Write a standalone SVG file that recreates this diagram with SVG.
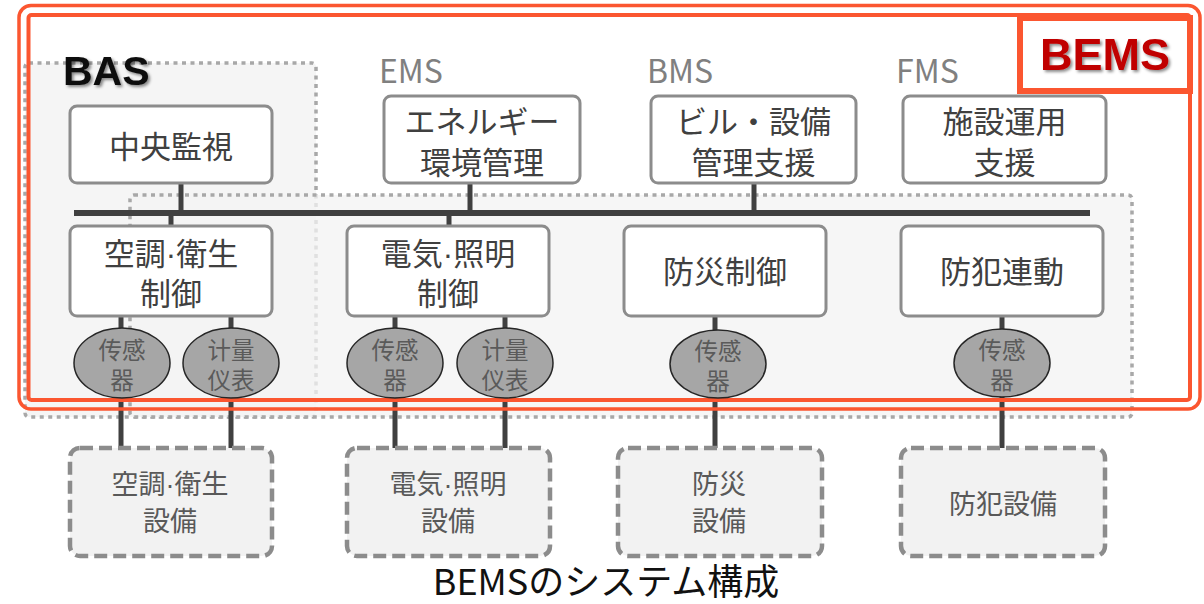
<svg xmlns="http://www.w3.org/2000/svg" width="1204" height="604" viewBox="0 0 1204 604">
<defs>
<filter id="sh" x="-10%" y="-20%" width="130%" height="150%">
<feDropShadow dx="2" dy="2" stdDeviation="1.5" flood-color="#000" flood-opacity="0.45"/>
</filter>
<style>
.region{stroke:#a8a8a8;stroke-width:3.5;stroke-dasharray:4 4.5}
.box{fill:#fff;stroke:#8c8c8c;stroke-width:3}
.dbox{fill:#f2f2f2;stroke:#8c8c8c;stroke-width:4.5;stroke-dasharray:13 6}
.ell{fill:#a6a6a6;stroke:#262626;stroke-width:1.5}
.red{fill:none;stroke:#fb5630}
.con{stroke:#404040;stroke-width:5;fill:none}
.bus{stroke:#404040;stroke-width:6;fill:none}
.jt{font-family:"Noto Sans CJK JP","Noto Sans CJK SC",sans-serif;text-anchor:middle}
.bt{font-size:31px;fill:#404040}
.et{font-size:23.5px;fill:#5a5a5a}
.dt{font-size:27px;fill:#595959}
.dot{font-family:"Liberation Sans",Arial,sans-serif}
.lab{font-family:"Noto Sans CJK JP",sans-serif;font-size:32px;fill:#808080}
</style>
</defs>
<rect width="1204" height="604" fill="#fff"/>

<g id="regions">
<rect id="bas-region" class="region" x="25" y="63" width="291" height="354" rx="4" fill="#f5f5f5"/>
<rect id="ctrl-region" class="region" x="130" y="195" width="1002" height="222" rx="4" fill="#f3f3f3" fill-opacity="0.75"/>
</g>

<g id="connectors">
<path class="bus" d="M74 213H1090"/>
<path class="con" d="M181 183V213M171 213V226M470 183V213M449 213V226M754 183V213"/>
<path class="con" d="M121 316V330M231 316V330M395 316V330M505 316V330M715 316V330M1002 316V330"/>
<path class="con" d="M121 396V448M231 396V448M395 396V448M505 396V448M715 396V448M1002 396V448"/>
</g>

<g id="bems-frame">
<rect class="red" x="19" y="5.5" width="1181" height="403.5" rx="12" stroke-width="3.5"/>
<rect class="red" x="28.5" y="15" width="1161.5" height="385" rx="3" stroke-width="4"/>
<rect x="1020" y="18" width="170" height="73" fill="#fff" stroke="#fb5630" stroke-width="6"/>
<text x="1105" y="70" font-family="Liberation Sans,Arial,sans-serif" font-weight="bold" font-size="45" fill="#c00000" text-anchor="middle" filter="url(#sh)">BEMS</text>
</g>

<g id="labels">
<text x="63" y="85" font-family="Liberation Sans,Arial,sans-serif" font-weight="bold" font-size="41" fill="#111" filter="url(#sh)">BAS</text>
<text class="lab" x="379" y="83">EMS</text>
<text class="lab" x="647" y="83">BMS</text>
<text class="lab" x="896" y="83">FMS</text>
</g>

<g id="n-central"><rect class="box" x="70" y="106" width="202" height="77" rx="7"/><text class="jt bt" x="171" y="158">中央監視</text></g>
<g id="n-ems"><rect class="box" x="384" y="96" width="196" height="87" rx="7"/><text class="jt bt" x="482" y="133">エネルギー<tspan x="482" dy="41">環境管理</tspan></text></g>
<g id="n-bms"><rect class="box" x="651" y="96" width="205" height="87" rx="7"/><text class="jt bt" x="753.5" y="133">ビル・設備<tspan x="753.5" dy="41">管理支援</tspan></text></g>
<g id="n-fms"><rect class="box" x="903" y="96" width="203" height="87" rx="7"/><text class="jt bt" x="1004.5" y="133">施設運用<tspan x="1004.5" dy="41">支援</tspan></text></g>

<g id="n-hvac"><rect class="box" x="70" y="226" width="202" height="90" rx="7"/><text class="jt bt" x="171" y="265">空調<tspan class="dot">·</tspan>衛生<tspan x="171" dy="40">制御</tspan></text></g>
<g id="n-elec"><rect class="box" x="347" y="226" width="202" height="90" rx="7"/><text class="jt bt" x="448" y="265">電気<tspan class="dot">·</tspan>照明<tspan x="448" dy="40">制御</tspan></text></g>
<g id="n-fire"><rect class="box" x="624" y="226" width="202" height="90" rx="7"/><text class="jt bt" x="725" y="283">防災制御</text></g>
<g id="n-sec"><rect class="box" x="901" y="226" width="202" height="90" rx="7"/><text class="jt bt" x="1002" y="283">防犯連動</text></g>

<g id="s-hvac1"><ellipse class="ell" cx="122" cy="363" rx="48" ry="35"/><text class="jt et" x="122" y="359">传感<tspan x="122" dy="30">器</tspan></text></g>
<g id="s-hvac2"><ellipse class="ell" cx="231" cy="363" rx="48" ry="35"/><text class="jt et" x="231" y="359">计量<tspan x="231" dy="30">仪表</tspan></text></g>
<g id="s-elec1"><ellipse class="ell" cx="395" cy="363" rx="48" ry="35"/><text class="jt et" x="395" y="359">传感<tspan x="395" dy="30">器</tspan></text></g>
<g id="s-elec2"><ellipse class="ell" cx="505" cy="363" rx="48" ry="35"/><text class="jt et" x="505" y="359">计量<tspan x="505" dy="30">仪表</tspan></text></g>
<g id="s-fire"><ellipse class="ell" cx="718" cy="364" rx="48" ry="34"/><text class="jt et" x="718" y="360">传感<tspan x="718" dy="30">器</tspan></text></g>
<g id="s-sec"><ellipse class="ell" cx="1002" cy="363" rx="48" ry="34"/><text class="jt et" x="1002" y="359">传感<tspan x="1002" dy="30">器</tspan></text></g>

<g id="e-hvac"><rect class="dbox" x="70" y="448" width="202" height="108" rx="10"/><text class="jt dt" x="170" y="494">空調<tspan class="dot">·</tspan>衛生<tspan x="170" dy="37">設備</tspan></text></g>
<g id="e-elec"><rect class="dbox" x="347" y="448" width="203" height="108" rx="10"/><text class="jt dt" x="448" y="494">電気<tspan class="dot">·</tspan>照明<tspan x="448" dy="37">設備</tspan></text></g>
<g id="e-fire"><rect class="dbox" x="618" y="448" width="204" height="108" rx="10"/><text class="jt dt" x="719" y="494">防災<tspan x="719" dy="37">設備</tspan></text></g>
<g id="e-sec"><rect class="dbox" x="901" y="448" width="204" height="108" rx="10"/><text class="jt dt" x="1003" y="514">防犯設備</text></g>

<text class="jt" x="606" y="595" font-size="36" fill="#111">BEMSのシステム構成</text>
</svg>
